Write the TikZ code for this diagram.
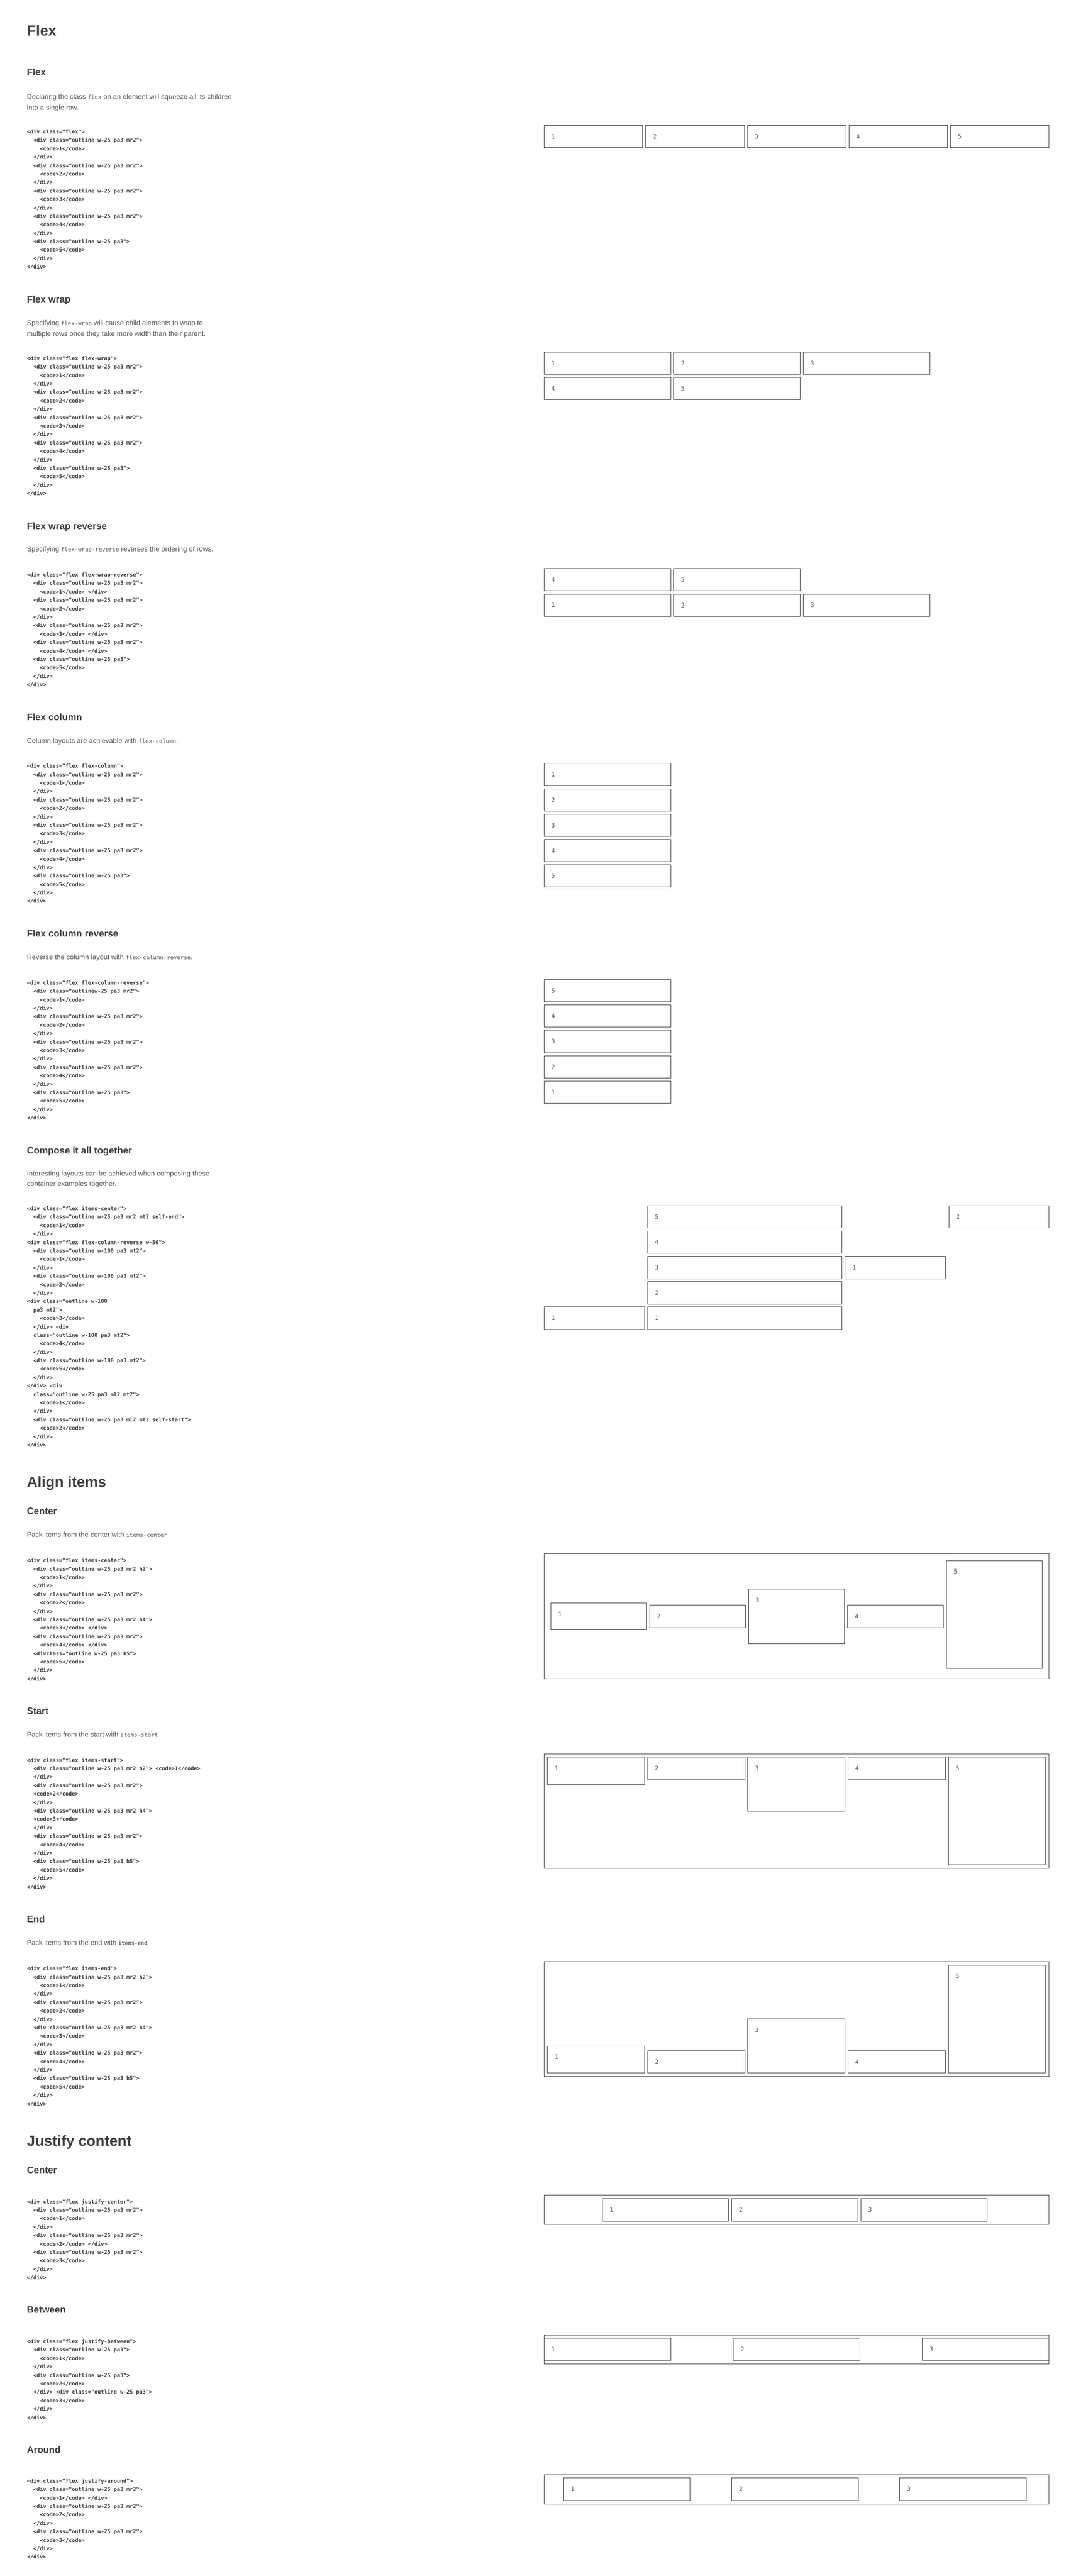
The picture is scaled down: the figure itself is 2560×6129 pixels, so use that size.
\documentclass[tikz,border=0pt]{standalone}
\usepackage{fontspec}
\setmainfont{Liberation Sans}
\setmonofont{DejaVu Sans Mono}
\definecolor{hd}{RGB}{64,64,64}
\definecolor{bd}{RGB}{85,85,85}
\definecolor{cd}{RGB}{55,55,55}
\definecolor{ln}{RGB}{70,70,70}
\newcommand\iA{\ \ }
\newcommand\iB{\ \ \ \ }
\newcommand\ic[1]{{\fontsize{13.5}{16}\selectfont\ttfamily #1}}
\newcommand\icb[1]{{\fontsize{12.7}{15}\selectfont\ttfamily\bfseries #1}}
\tikzset{
  hone/.style={font=\fontsize{35}{42}\selectfont\bfseries, text=hd, anchor=base west, inner sep=0pt},
  htwo/.style={font=\fontsize{22.5}{27}\selectfont\bfseries, text=hd, anchor=base west, inner sep=0pt},
  para/.style={font=\fontsize{16.6}{20}\selectfont, text=bd, anchor=base west, inner sep=0pt},
  codeln/.style={font=\fontsize{12.7}{15}\selectfont\ttfamily\bfseries, text=cd, anchor=base west, inner sep=0pt},
  itembox/.style={draw=ln, line width=1.2pt, anchor=north west, inner sep=0pt, outer sep=0pt},
  lbl/.style={font=\fontsize{14.5}{16}\selectfont\ttfamily, text=bd, anchor=west, inner sep=0pt}
}
\newcommand\drawitem[6]{%
  \node[itembox, minimum width=#4pt, minimum height=#5pt] (#1) at (#2,#3) {};
  \node[lbl] (#1l) at ([xshift=17pt,yshift=-26.5pt]#1.north west) {#6};}
\newcommand\drawframe[5]{%
  \node[itembox, minimum width=#4pt, minimum height=#5pt] (#1) at (#2,#3) {};}
\newcommand\codeblock[3]{%
  \foreach \cl [count=\ci] in {#3}{%
    \node[codeln] (#1-\ci) at (64,{#2+(\ci-1)*20.1}) {\ignorespaces\cl};}}
\begin{document}
\begin{tikzpicture}[x=1pt,y=-1pt]
\useasboundingbox (0,0) rectangle (2560,6129);
\fill[white] (0,0) rectangle (2560,6129);

% ---------------- Flex ----------------
\node[hone] (hflex) at (64,85.8) {Flex};
\node[htwo] (sflex) at (64,179.5) {Flex};
\node[para] (pflex1) at (64,235.5) {Declaring the class \ic{flex} on an element will squeeze all its children};
\node[para] (pflex2) at (64,261.2) {into a single row.};
\codeblock{cflex}{318}{%
<div class="flex">,%
\iA<div class="outline w-25 pa3 mr2">,%
\iB<code>1</code>,%
\iA</div>,%
\iA<div class="outline w-25 pa3 mr2">,%
\iB<code>2</code>,%
\iA</div>,%
\iA<div class="outline w-25 pa3 mr2">,%
\iB<code>3</code>,%
\iA</div>,%
\iA<div class="outline w-25 pa3 mr2">,%
\iB<code>4</code>,%
\iA</div>,%
\iA<div class="outline w-25 pa3">,%
\iB<code>5</code>,%
\iA</div>,%
</div>}
\drawitem{f1}{1295}{298.2}{234.6}{53}{1}
\drawitem{f2}{1536.8}{298.2}{234.6}{53}{2}
\drawitem{f3}{1778.6}{298.2}{234.6}{53}{3}
\drawitem{f4}{2020.4}{298.2}{234.6}{53}{4}
\drawitem{f5}{2262.2}{298.2}{234.6}{53}{5}

% ---------------- Flex wrap ----------------
\node[htwo] (swrap) at (64,719.9) {Flex wrap};
\node[para] (pwrap1) at (64,773.5) {Specifying \ic{flex-wrap} will cause child elements to wrap to};
\node[para] (pwrap2) at (64,799.4) {multiple rows once they take more width than their parent.};
\codeblock{cwrap}{857.3}{%
<div class="flex flex-wrap">,%
\iA<div class="outline w-25 pa3 mr2">,%
\iB<code>1</code>,%
\iA</div>,%
\iA<div class="outline w-25 pa3 mr2">,%
\iB<code>2</code>,%
\iA</div>,%
\iA<div class="outline w-25 pa3 mr2">,%
\iB<code>3</code>,%
\iA</div>,%
\iA<div class="outline w-25 pa3 mr2">,%
\iB<code>4</code>,%
\iA</div>,%
\iA<div class="outline w-25 pa3">,%
\iB<code>5</code>,%
\iA</div>,%
</div>}
\drawitem{w1}{1295}{838}{301}{53}{1}
\drawitem{w2}{1603.3}{838}{301}{53}{2}
\drawitem{w3}{1911.6}{838}{301}{53}{3}
\drawitem{w4}{1295}{898}{301}{53}{4}
\drawitem{w5}{1603.3}{898}{301}{53}{5}

% ---------------- Flex wrap reverse ----------------
\node[htwo] (swrev) at (64,1260) {Flex wrap reverse};
\node[para] (pwrev) at (64,1312.1) {Specifying \ic{flex-wrap-reverse} reverses the ordering of rows.};
\codeblock{cwrev}{1372.2}{%
<div class="flex flex-wrap-reverse">,%
\iA<div class="outline w-25 pa3 mr2">,%
\iB<code>1</code> </div>,%
\iA<div class="outline w-25 pa3 mr2">,%
\iB<code>2</code>,%
\iA</div>,%
\iA<div class="outline w-25 pa3 mr2">,%
\iB<code>3</code> </div>,%
\iA<div class="outline w-25 pa3 mr2">,%
\iB<code>4</code> </div>,%
\iA<div class="outline w-25 pa3">,%
\iB<code>5</code>,%
\iA</div>,%
</div>}
\drawitem{r4}{1295}{1352.5}{301}{53}{4}
\drawitem{r5}{1603.3}{1352.5}{301}{53}{5}
\drawitem{r1}{1295}{1413.4}{301}{53}{1}
\drawitem{r2}{1603.3}{1413.4}{301}{53}{2}
\drawitem{r3}{1911.6}{1413.4}{301}{53}{3}

% ---------------- Flex column ----------------
\node[htwo] (scol) at (64,1714.2) {Flex column};
\node[para] (pcol) at (64,1767.8) {Column layouts are achievable with \ic{flex-column}.};
\codeblock{ccol}{1827.2}{%
<div class="flex flex-column">,%
\iA<div class="outline w-25 pa3 mr2">,%
\iB<code>1</code>,%
\iA</div>,%
\iA<div class="outline w-25 pa3 mr2">,%
\iB<code>2</code>,%
\iA</div>,%
\iA<div class="outline w-25 pa3 mr2">,%
\iB<code>3</code>,%
\iA</div>,%
\iA<div class="outline w-25 pa3 mr2">,%
\iB<code>4</code>,%
\iA</div>,%
\iA<div class="outline w-25 pa3">,%
\iB<code>5</code>,%
\iA</div>,%
</div>}
\drawitem{c1}{1295}{1816.3}{301}{52.8}{1}
\drawitem{c2}{1295}{1876.7}{301}{52.8}{2}
\drawitem{c3}{1295}{1937.1}{301}{52.8}{3}
\drawitem{c4}{1295}{1997.5}{301}{52.8}{4}
\drawitem{c5}{1295}{2057.9}{301}{52.8}{5}

% ---------------- Flex column reverse ----------------
\node[htwo] (screv) at (64,2229.1) {Flex column reverse};
\node[para] (pcrev) at (64,2282.7) {Reverse the column layout with \ic{flex-column-reverse}.};
\codeblock{ccrev}{2342.8}{%
<div class="flex flex-column-reverse">,%
\iA<div class="outlinew-25 pa3 mr2">,%
\iB<code>1</code>,%
\iA</div>,%
\iA<div class="outline w-25 pa3 mr2">,%
\iB<code>2</code>,%
\iA</div>,%
\iA<div class="outline w-25 pa3 mr2">,%
\iB<code>3</code>,%
\iA</div>,%
\iA<div class="outline w-25 pa3 mr2">,%
\iB<code>4</code>,%
\iA</div>,%
\iA<div class="outline w-25 pa3">,%
\iB<code>5</code>,%
\iA</div>,%
</div>}
\drawitem{v5}{1295}{2330.7}{301}{52.8}{5}
\drawitem{v4}{1295}{2391.1}{301}{52.8}{4}
\drawitem{v3}{1295}{2451.5}{301}{52.8}{3}
\drawitem{v2}{1295}{2511.9}{301}{52.8}{2}
\drawitem{v1}{1295}{2572.3}{301}{52.8}{1}

% ---------------- Compose ----------------
\node[htwo] (scomp) at (64,2744.7) {Compose it all together};
\node[para] (pcomp1) at (64,2798.3) {Interesting layouts can be achieved when composing these};
\node[para] (pcomp2) at (64,2822.7) {container examples together.};
\codeblock{ccomp}{2879.9}{%
<div class="flex items-center">,%
\iA<div class="outline w-25 pa3 mr2 mt2 self-end">,%
\iB<code>1</code>,%
\iA</div>,%
<div class="flex flex-column-reverse w-50">,%
\iA<div class="outline w-100 pa3 mt2">,%
\iB<code>1</code>,%
\iA</div>,%
\iA<div class="outline w-100 pa3 mt2">,%
\iB<code>2</code>,%
\iA</div>,%
<div class="outline w-100,%
\iA pa3 mt2">,%
\iB<code>3</code>,%
\iA</div> <div,%
\iA class="outline w-100 pa3 mt2">,%
\iB<code>4</code>,%
\iA</div>,%
\iA<div class="outline w-100 pa3 mt2">,%
\iB<code>5</code>,%
\iA</div>,%
</div> <div,%
\iA class="outline w-25 pa3 ml2 mt2">,%
\iB<code>1</code>,%
\iA</div>,%
\iA<div class="outline w-25 pa3 ml2 mt2 self-start">,%
\iB<code>2</code>,%
\iA</div>,%
</div>}
\drawitem{k5}{1541.2}{2868.6}{462.8}{53.5}{5}
\drawitem{k4}{1541.2}{2928.8}{462.8}{53.5}{4}
\drawitem{k3}{1541.2}{2989}{462.8}{53.5}{3}
\drawitem{k2}{1541.2}{3049.2}{462.8}{53.5}{2}
\drawitem{k1}{1541.2}{3109.5}{462.8}{53.5}{1}
\drawitem{ka}{1294.7}{3109.5}{239.2}{53.5}{1}
\drawitem{kb}{2011.4}{2989}{238.4}{53.5}{1}
\drawitem{kc}{2258}{2868.6}{238.3}{53.5}{2}

% ---------------- Align items ----------------
\node[hone] (halign) at (64,3538.5) {Align items};
\node[htwo] (sacen) at (64,3603.6) {Center};
\node[para] (pacen) at (64,3657.2) {Pack items from the center with \ic{items-center}};
\codeblock{cacen}{3717.4}{%
<div class="flex items-center">,%
\iA<div class="outline w-25 pa3 mr2 h2">,%
\iB<code>1</code>,%
\iA</div>,%
\iA<div class="outline w-25 pa3 mr2">,%
\iB<code>2</code>,%
\iA</div>,%
\iA<div class="outline w-25 pa3 mr2 h4">,%
\iB<code>3</code> </div>,%
\iA<div class="outline w-25 pa3 mr2">,%
\iB<code>4</code> </div>,%
\iA<divclass="outline w-25 pa3 h5">,%
\iB<code>5</code>,%
\iA</div>,%
</div>}
\drawframe{acf}{1295}{3696.7}{1201.3}{297.5}
\drawitem{ac1}{1311}{3813.8}{227.8}{64.1}{1}
\drawitem{ac2}{1546.1}{3819}{227.8}{53.8}{2}
\drawitem{ac3}{1781.2}{3781.4}{228.6}{129}{3}
\drawitem{ac4}{2017.1}{3819}{227.8}{53.8}{4}
\drawitem{ac5}{2252.2}{3713}{227.8}{257.2}{5}

\node[htwo] (sastart) at (64,4078.6) {Start};
\node[para] (pastart) at (64,4133.2) {Pack items from the start with \ic{items-start}};
\codeblock{castart}{4192.3}{%
<div class="flex items-start">,%
\iA<div class="outline w-25 pa3 mr2 h2"> <code>1</code>,%
\iA</div>,%
\iA<div class="outline w-25 pa3 mr2">,%
\iA<code>2</code>,%
\iA</div>,%
\iA<div class="outline w-25 pa3 mr2 h4">,%
\iA<code>3</code>,%
\iA</div>,%
\iA<div class="outline w-25 pa3 mr2">,%
\iB<code>4</code>,%
\iA</div>,%
\iA<div class="outline w-25 pa3 h5">,%
\iB<code>5</code>,%
\iA</div>,%
</div>}
\drawframe{asf}{1295}{4172.8}{1201.3}{272.6}
\drawitem{as1}{1302.9}{4180.5}{231}{64.9}{1}
\drawitem{as2}{1541.2}{4180.5}{231.8}{53.8}{2}
\drawitem{as3}{1779.6}{4180.5}{231.8}{129}{3}
\drawitem{as4}{2018}{4180.5}{231.8}{53.8}{4}
\drawitem{as5}{2257.1}{4180.5}{231.1}{256.3}{5}

\node[htwo] (saend) at (64,4574.6) {End};
\node[para] (paend) at (64,4627.8) {Pack items from the end with \icb{items-end}};
\codeblock{caend}{4688.3}{%
<div class="flex items-end">,%
\iA<div class="outline w-25 pa3 mr2 h2">,%
\iB<code>1</code>,%
\iA</div>,%
\iA<div class="outline w-25 pa3 mr2">,%
\iB<code>2</code>,%
\iA</div>,%
\iA<div class="outline w-25 pa3 mr2 h4">,%
\iB<code>3</code>,%
\iA</div>,%
\iA<div class="outline w-25 pa3 mr2">,%
\iB<code>4</code>,%
\iA</div>,%
\iA<div class="outline w-25 pa3 h5">,%
\iB<code>5</code>,%
\iA</div>,%
</div>}
\drawframe{aef}{1295}{4667.6}{1201.3}{272.6}
\drawitem{ae1}{1302.9}{4867.6}{231}{64.9}{1}
\drawitem{ae2}{1541.2}{4879.6}{231.8}{52.9}{2}
\drawitem{ae3}{1779.6}{4803.5}{231.8}{129}{3}
\drawitem{ae4}{2018}{4879.6}{231.8}{52.9}{4}
\drawitem{ae5}{2257.1}{4675.3}{231.1}{257.2}{5}

% ---------------- Justify content ----------------
\node[hone] (hjust) at (64,5105.6) {Justify content};
\node[htwo] (sjcen) at (64,5171.5) {Center};
\codeblock{cjcen}{5242.8}{%
<div class="flex justify-center">,%
\iA<div class="outline w-25 pa3 mr2">,%
\iB<code>1</code>,%
\iA</div>,%
\iA<div class="outline w-25 pa3 mr2">,%
\iB<code>2</code> </div>,%
\iA<div class="outline w-25 pa3 mr2">,%
\iB<code>3</code>,%
\iA</div>,%
</div>}
\drawframe{jcf}{1295}{5222.4}{1201.3}{69.9}
\drawitem{jc1}{1433.5}{5230.6}{300.6}{54.1}{1}
\drawitem{jc2}{1741.2}{5230.6}{300.6}{54.1}{2}
\drawitem{jc3}{2049}{5230.6}{300.6}{54.1}{3}

\node[htwo] (sjbet) at (64,5503.5) {Between};
\codeblock{cjbet}{5575.5}{%
<div class="flex justify-between">,%
\iA<div class="outline w-25 pa3">,%
\iB<code>1</code>,%
\iA</div>,%
\iA<div class="outline w-25 pa3">,%
\iB<code>2</code>,%
\iA</div> <div class="outline w-25 pa3">,%
\iB<code>3</code>,%
\iA</div>,%
</div>}
\drawframe{jbf}{1295}{5555.6}{1201.3}{68.9}
\drawitem{jb1}{1295}{5563.3}{301.2}{53}{1}
\drawitem{jb2}{1745.3}{5563.3}{301.2}{53}{2}
\drawitem{jb3}{2195.1}{5563.3}{301.2}{53}{3}

\node[htwo] (sjaro) at (64,5836.2) {Around};
\codeblock{cjaro}{5907.5}{%
<div class="flex justify-around">,%
\iA<div class="outline w-25 pa3 mr2">,%
\iB<code>1</code> </div>,%
\iA<div class="outline w-25 pa3 mr2">,%
\iB<code>2</code>,%
\iA</div>,%
\iA<div class="outline w-25 pa3 mr2">,%
\iB<code>3</code>,%
\iA</div>,%
</div>}
\drawframe{jaf}{1295}{5887.8}{1201.3}{69.9}
\drawitem{ja1}{1341.2}{5895.4}{301.2}{54.1}{1}
\drawitem{ja2}{1741.2}{5895.4}{301.2}{54.1}{2}
\drawitem{ja3}{2141.2}{5895.4}{301.2}{54.1}{3}
\end{tikzpicture}
\end{document}
